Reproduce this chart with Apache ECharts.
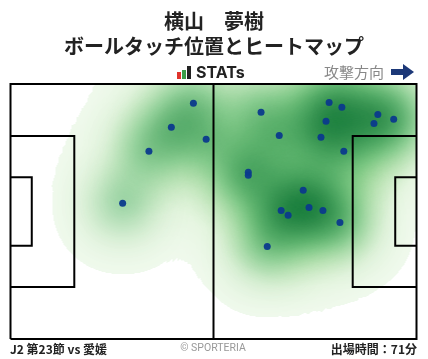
<!DOCTYPE html>
<html><head><meta charset="utf-8">
<script src="https://cdn.jsdelivr.net/npm/echarts@6/dist/echarts.min.js"></script>
<style>html,body{margin:0;padding:0;background:#fff}#c{width:428px;height:359px}</style>
</head><body><div id="c"></div>
<script>
const playerName = '横山　夢樹';
const chartTitle = 'ボールタッチ位置とヒートマップ';
const matchLabel = 'J2 第23節 vs 愛媛';
const minutesLabel = '出場時間：71分';
const directionLabel = '攻撃方向';
const creditLabel = '© SPORTERIA';
// ball touches, metres: x along the pitch (0-105, attacking to the right), y from the top touchline (0-68)
const touchX = [47.3, 41.6, 50.6, 35.8, 29.0, 82.4, 85.7, 64.8, 95.0, 99.1, 81.6, 94.0, 69.5, 80.3, 86.2, 61.5, 61.5, 75.7, 77.2, 70.0, 80.8, 71.8, 85.2, 66.4];
const touchY = [5.1, 11.5, 14.7, 17.9, 31.8, 4.9, 6.2, 7.5, 8.1, 9.4, 9.9, 10.5, 13.7, 14.2, 17.9, 23.5, 24.3, 28.3, 32.9, 33.7, 33.7, 35.0, 36.9, 43.3];

// pitch dimensions (m)
const PL = 105, PW = 68, PA_D = 16.5, PA_W = 40.32, GA_D = 5.5, GA_W = 18.32;

echarts.registerMap('pitch', {
  type: 'FeatureCollection',
  features: [{ type: 'Feature', properties: { name: 'pitch' },
    geometry: { type: 'Polygon', coordinates: [[[0, 0], [PL, 0], [PL, PW], [0, PW], [0, 0]]] } }]
});

// touchY is measured from the top; geo latitude grows upward
const pts = touchX.map((x, i) => [x, PW - touchY[i]]);
const heatData = pts.map(p => [p[0], p[1], 1]);

const pitchLines = [
  { coords: [[0, 0], [PL, 0], [PL, PW], [0, PW], [0, 0]] },
  { coords: [[PL / 2, 0], [PL / 2, PW]] },
  { coords: [[0, PW / 2 - PA_W / 2], [PA_D, PW / 2 - PA_W / 2], [PA_D, PW / 2 + PA_W / 2], [0, PW / 2 + PA_W / 2]] },
  { coords: [[0, PW / 2 - GA_W / 2], [GA_D, PW / 2 - GA_W / 2], [GA_D, PW / 2 + GA_W / 2], [0, PW / 2 + GA_W / 2]] },
  { coords: [[PL, PW / 2 - PA_W / 2], [PL - PA_D, PW / 2 - PA_W / 2], [PL - PA_D, PW / 2 + PA_W / 2], [PL, PW / 2 + PA_W / 2]] },
  { coords: [[PL, PW / 2 - GA_W / 2], [PL - GA_D, PW / 2 - GA_W / 2], [PL - GA_D, PW / 2 + GA_W / 2], [PL, PW / 2 + GA_W / 2]] }
];

const chart = echarts.init(document.getElementById('c'), null, { renderer: 'canvas' });
const jp = '"Noto Sans CJK JP", "Noto Sans", sans-serif';
chart.setOption({
  animation: false,
  backgroundColor: '#fff',
  geo: {
    map: 'pitch',
    boundingCoords: [[0, PW], [PL, 0]],
    left: 10.5, top: 84, width: 406, height: 255,
    roam: false, silent: true,
    label: { show: false },
    itemStyle: { areaColor: '#fff', borderWidth: 0 },
    emphasis: { disabled: true }
  },
  visualMap: [
    {
      type: 'continuous', show: false, seriesIndex: 0,
      min: 0, max: 1, range: [0.04, 1],
      inRange: { color: ['#f2faef', '#e5f5e0', '#c7e9c0', '#a1d99b', '#8ccf8a', '#74c476'] },
      outOfRange: { color: 'rgba(255,255,255,0)' }
    },
    {
      type: 'continuous', show: false, seriesIndex: 1,
      min: 0, max: 1.2,
      inRange: { color: ['#74c476', '#6abf70', '#5ab769', '#4eb163', '#41ab5d', '#38a055', '#2d964d', '#238b45', '#167c3a', '#006d2c', '#00441b'] }
    }
  ],
  series: [
    {
      type: 'heatmap', coordinateSystem: 'geo',
      data: heatData,
      pointSize: 25, blurSize: 80, minOpacity: 1, maxOpacity: 1,
      silent: true, z: 2
    },
    {
      type: 'heatmap', coordinateSystem: 'geo',
      data: heatData,
      pointSize: 24, blurSize: 44, minOpacity: 0, maxOpacity: 1,
      silent: true, z: 2.5
    },
    {
      type: 'lines', coordinateSystem: 'geo', polyline: true,
      data: pitchLines,
      lineStyle: { color: '#000', width: 2, opacity: 1 },
      silent: true, z: 3
    },
    {
      type: 'scatter', coordinateSystem: 'geo',
      data: pts, symbolSize: 7,
      itemStyle: { color: '#0b3a8c', opacity: 0.95 },
      silent: true, z: 4
    }
  ],
  graphic: [
    { type: 'text', style: { x: 214, y: 21, text: playerName, textAlign: 'center', textVerticalAlign: 'middle', font: 'bold 20px ' + jp, fill: '#222' } },
    { type: 'text', style: { x: 214, y: 46, text: chartTitle, textAlign: 'center', textVerticalAlign: 'middle', font: 'bold 20px ' + jp, fill: '#222' } },
    { type: 'rect', shape: { x: 177, y: 72, width: 4, height: 7 }, style: { fill: '#e0342c' } },
    { type: 'rect', shape: { x: 182, y: 70, width: 4, height: 9 }, style: { fill: '#3a9d48' } },
    { type: 'rect', shape: { x: 187, y: 66, width: 4, height: 13 }, style: { fill: '#222' } },
    { type: 'text', style: { x: 196, y: 73.5, text: 'STATs', textAlign: 'left', textVerticalAlign: 'middle', font: 'bold 16px Inter, Roboto, sans-serif', fill: '#222' } },
    { type: 'text', style: { x: 384, y: 72.5, text: directionLabel, textAlign: 'right', textVerticalAlign: 'middle', font: '15px ' + jp, fill: '#888' } },
    { type: 'polygon', shape: { points: [[391, 69], [403, 69], [403, 64], [414, 72], [403, 80], [403, 75], [391, 75]] }, style: { fill: '#1c3878' } },
    { type: 'text', style: { x: 10, y: 349.5, text: matchLabel, textAlign: 'left', textVerticalAlign: 'middle', font: 'bold 12px ' + jp, fill: '#222' } },
    { type: 'text', style: { x: 213, y: 348.5, text: creditLabel, textAlign: 'center', textVerticalAlign: 'middle', font: '10.5px Roboto, sans-serif', fill: '#999' } },
    { type: 'text', style: { x: 417, y: 349.5, text: minutesLabel, textAlign: 'right', textVerticalAlign: 'middle', font: 'bold 12px ' + jp, fill: '#222' } }
  ]
});
</script></body></html>
